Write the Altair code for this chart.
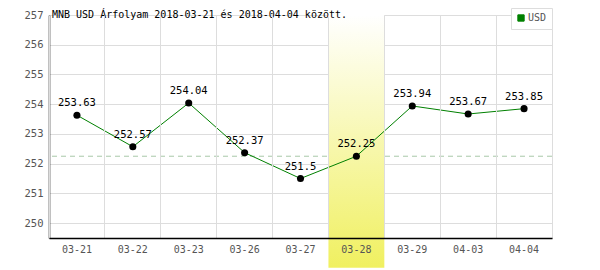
import altair as alt
import pandas as pd

dates = ["03-21", "03-22", "03-23", "03-26", "03-27", "03-28", "03-29", "04-03", "04-04"]
values = [253.63, 252.57, 254.04, 252.37, 251.5, 252.25, 253.94, 253.67, 253.85]
labels = ["253.63", "252.57", "254.04", "252.37", "251.5", "252.25", "253.94", "253.67", "253.85"]
series = "USD"
highlight_date = ["03-28"]
highlight_top = [257]
highlight_bottom = [248.5]
ref_value = [252.25]
y_domain = [249.5, 257]
y_ticks = [250, 251, 252, 253, 254, 255, 256, 257]

FONT = "DejaVu Sans Mono"

df = pd.DataFrame({"date": dates, "value": values, "label": labels, "series": series})
hl = pd.DataFrame({"date": highlight_date, "top": highlight_top, "bottom": highlight_bottom})
ref = pd.DataFrame({"ref": ref_value})

xscale = alt.Scale(domain=dates, paddingInner=0, paddingOuter=0)
yscale = alt.Scale(domain=y_domain, nice=False, zero=False)

xaxis = alt.Axis(title=None, bandPosition=0, ticks=False,
                 grid=True, gridColor="#dddddd", domainColor="black", domainWidth=1.5,
                 labelFont=FONT, labelFontSize=10, labelColor="#555555", labelPadding=6,
                 labelAngle=0, zindex=1)
yaxis = alt.Axis(title=None, values=y_ticks, ticks=False, grid=True, gridColor="#dddddd",
                 domainColor="black", domainWidth=1.5, labelFont=FONT, labelFontSize=10.5,
                 labelColor="#555555", labelPadding=6, format="d", labelOverlap=False)


def X(field):
    return alt.X(field, type="nominal", scale=xscale, axis=xaxis, sort=dates)


def Y(field):
    return alt.Y(field, type="quantitative", scale=yscale, axis=yaxis)


base = alt.Chart(df)

refline = alt.Chart(ref).mark_rule(color="#a8c8a8", strokeDash=[5, 4], strokeWidth=1).encode(
    y=Y("ref")
)

grad = alt.LinearGradient(
    gradient="linear", x1=0, x2=0, y1=0, y2=1,
    stops=[alt.GradientStop(offset=0, color="#ffffff"),
           alt.GradientStop(offset=1, color="#f0f060")],
)
highlight = alt.Chart(hl).mark_bar(color=grad, clip=False).encode(
    x=X("date"),
    y=Y("top"),
    y2="bottom:Q",
)

line = base.mark_line(strokeWidth=1).encode(
    x=X("date"),
    y=Y("value"),
    color=alt.Color("series:N", scale=alt.Scale(domain=[series], range=["#008000"]),
                    legend=alt.Legend(title=None, orient="none", legendX=462, legendY=-7,
                                      symbolType="square", symbolSize=40,
                                      symbolFillColor="#008000",
                                      symbolStrokeColor="#004400", symbolStrokeWidth=1,
                                      labelFont=FONT, labelFontSize=10, labelColor="#555555",
                                      padding=5, strokeColor="#dddddd", fillColor="white",
                                      labelOffset=2)),
)

points = base.mark_circle(size=50, color="black", opacity=1).encode(
    x=X("date"),
    y=Y("value"),
)

text = base.mark_text(dy=-12, font=FONT, fontSize=10.5, color="black").encode(
    x=X("date"),
    y=Y("value"),
    text="label:N",
)

chart = alt.layer(refline, highlight, line, points, text).properties(
    width=503, height=223,
    padding={"left": 49, "top": 15, "right": 48, "bottom": 32},
    autosize=alt.AutoSizeParams(type="none"),
    title=alt.TitleParams("MNB USD Árfolyam 2018-03-21 és 2018-04-04 között.", anchor="start",
                          font=FONT, fontSize=10, fontWeight="normal", color="black",
                          offset=-12, dx=3, frame="group"),
).configure_view(stroke="#dddddd").configure(background="white")

chart.save("out.html", embed_options={"renderer": "svg", "actions": False})
